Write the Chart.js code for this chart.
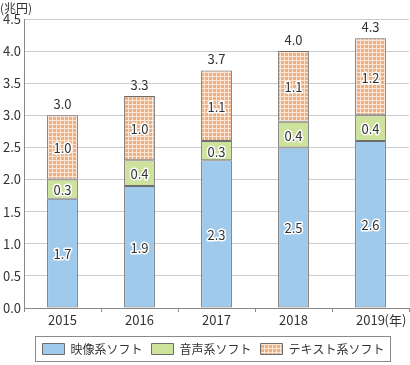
<!DOCTYPE html>
<html>
<head>
<meta charset="utf-8">
<script src="https://cdn.jsdelivr.net/npm/chart.js@4"></script>
<style>
  body { margin: 0; background: #fff; }
  #wrap { width: 410px; height: 365px; }
</style>
</head>
<body>
<div id="wrap"><canvas id="myChart" width="410" height="365"></canvas></div>
<script>
const years = ['2015', '2016', '2017', '2018', '2019'];
const video = [1.7, 1.9, 2.3, 2.5, 2.6];
const audio = [0.3, 0.4, 0.3, 0.4, 0.4];
const text = [1.0, 1.0, 1.1, 1.1, 1.2];
const totals = [3.0, 3.3, 3.7, 4.0, 4.3];
const yTicks = [0, 0.5, 1.0, 1.5, 2.0, 2.5, 3.0, 3.5, 4.0, 4.5];

const FONT = '"Noto Sans CJK JP", "Noto Sans", sans-serif';

// grid pattern for the text series
function makePattern() {
    const c = document.createElement('canvas');
    c.width = 4; c.height = 4;
    const g = c.getContext('2d');
    g.fillStyle = '#ecb083';
    g.fillRect(0, 0, 4, 4);
    g.fillStyle = '#fbe6d6';
    g.fillRect(0, 0, 4, 1);
    g.fillRect(0, 0, 1, 4);
    return g.createPattern(c, 'repeat');
}

const segLabels = {
    id: 'segLabels',
    afterLayout(chart) {
        // legend sits a little right of centre in the original
        chart.legend.left += 9;
        chart.legend.right += 9;
    },
    afterDatasetsDraw(chart) {
        const ctx = chart.ctx;
        ctx.save();
        ctx.font = '13px ' + FONT;
        ctx.textAlign = 'center';
        ctx.textBaseline = 'middle';
        ctx.lineJoin = 'round';
        chart.data.datasets.forEach((ds, i) => {
            chart.getDatasetMeta(i).data.forEach((bar, j) => {
                const y = (bar.y + bar.base) / 2;
                ctx.strokeStyle = '#fff';
                ctx.lineWidth = 3;
                ctx.strokeText(ds.data[j].toFixed(1), bar.x, y + 1);
                ctx.fillStyle = '#333';
                ctx.fillText(ds.data[j].toFixed(1), bar.x, y + 1);
            });
        });
        // totals
        const top = chart.getDatasetMeta(chart.data.datasets.length - 1).data;
        top.forEach((bar, j) => {
            ctx.fillStyle = '#333';
            ctx.fillText(totals[j].toFixed(1), bar.x, bar.y - 11);
        });
        ctx.restore();
    },
    afterDraw(chart) {
        const ctx = chart.ctx;
        ctx.save();
        ctx.font = '12px ' + FONT;
        ctx.fillStyle = '#333';
        ctx.textBaseline = 'middle';
        ctx.textAlign = 'left';
        ctx.fillText('(兆円)', 0, 8);
        // year unit after last tick
        const xs = chart.scales.x;
        const lx = xs.getPixelForValue(years.length - 1);
        ctx.font = '13px ' + FONT;
        ctx.fillText('(年)', lx + 14, 320);
        // legend border
        const boxes = chart.legend.legendHitBoxes;
        if (boxes && boxes.length) {
            const last = boxes[boxes.length - 1];
            const l = boxes[0].left - 7;
            const r = last.left + last.width + 6;
            const cy = boxes[0].top + boxes[0].height / 2;
            ctx.strokeStyle = '#8a8a8a';
            ctx.lineWidth = 1;
            ctx.strokeRect(Math.round(l) + 0.5, Math.round(cy - 13) + 0.5, Math.round(r - l), 25);
        }
        ctx.restore();
    }
};

const config = {
    type: 'bar',
    data: {
        labels: years,
        datasets: [
            { label: '映像系ソフト', data: video, backgroundColor: '#9fcaec' },
            { label: '音声系ソフト', data: audio, backgroundColor: '#cde39b' },
            { label: 'テキスト系ソフト', data: text, backgroundColor: makePattern() }
        ].map(ds => Object.assign(ds, {
            borderColor: '#6e6e6e',
            borderWidth: 1,
            borderSkipped: false,
            categoryPercentage: 1,
            barPercentage: 0.4
        }))
    },
    options: {
        responsive: false,
        animation: false,
        layout: { padding: { top: 19, right: 1, bottom: 0, left: 0 } },
        scales: {
            x: {
                stacked: true,
                afterFit(s) { s.height = 26; },
                grid: { display: true, drawOnChartArea: false, drawTicks: true, tickLength: 4, color: '#888', offset: true },
                border: { color: '#888' },
                ticks: { color: '#333', font: { family: FONT, size: 13 }, padding: 0 }
            },
            y: {
                stacked: true,
                min: 0,
                max: 4.5,
                afterFit(s) { s.width = 24; },
                afterBuildTicks(s) { s.ticks = yTicks.map(v => ({ value: v })); },
                grid: { color: '#cccccc', drawTicks: false },
                border: { color: '#888' },
                ticks: {
                    color: '#333',
                    font: { family: FONT, size: 13 },
                    padding: 3,
                    callback: v => v.toFixed(1)
                }
            }
        },
        plugins: {
            tooltip: { enabled: false },
            legend: {
                position: 'bottom',
                labels: {
                    color: '#333',
                    font: { family: FONT, size: 12 },
                    boxWidth: 22,
                    boxHeight: 11,
                    padding: 9
                }
            }
        }
    },
    plugins: [segLabels]
};

new Chart(document.getElementById('myChart'), config);
</script>
</body>
</html>
